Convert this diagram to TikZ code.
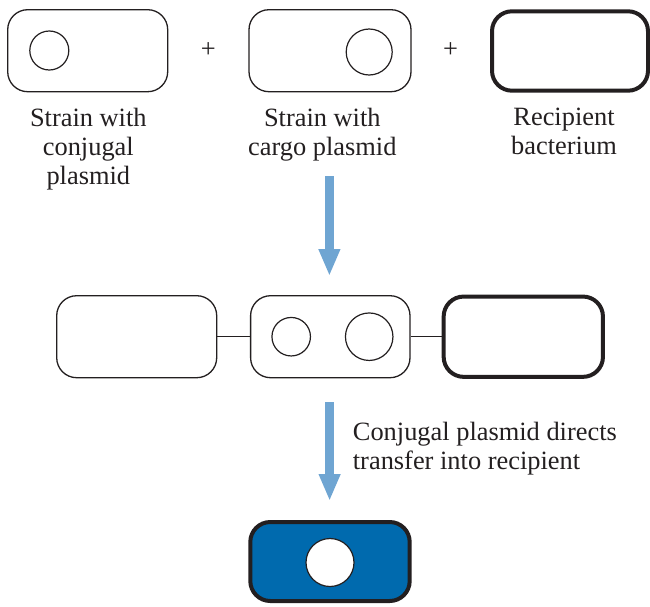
\documentclass[tikz,border=0pt]{standalone}
\usepackage{fontspec}
\setmainfont{Liberation Serif}
\usetikzlibrary{arrows.meta}
\definecolor{ink}{HTML}{231F20}
\definecolor{flowblue}{HTML}{6FA5D2}
\definecolor{cellblue}{HTML}{006AAE}
\tikzset{
  cell/.style={rectangle, draw=ink, line width=1.3pt, rounded corners=20pt,
    inner sep=0pt, minimum width=160pt, minimum height=82pt},
  recip/.style={cell, line width=4pt},
  plasmid/.style={circle, draw=ink, line width=1.2pt, inner sep=0pt},
  lab/.style={font=\fontsize{26.4}{29}\selectfont, align=center, text=ink, inner sep=0pt},
  flow/.style={draw=flowblue, line width=8.3pt,
    -{Triangle[width=20pt,length=27pt]}},
  link/.style={draw=ink, line width=1.3pt}
}
\begin{document}
\begin{tikzpicture}[x=1pt,y=-1pt]
\useasboundingbox (0,0) rectangle (650,606);

% the three starting strains
\node[cell, minimum width=160pt, minimum height=82pt] (donor) at (87.7,50.7) {};
\node[plasmid, minimum size=39pt] (conjp) at (49.3,50.5) {};
\node[lab] (plusA) at (208.3,50) {+};
\node[cell, minimum width=162pt, minimum height=82pt] (helper) at (330,50.7) {};
\node[plasmid, minimum size=46pt] (cargop) at (369.2,52) {};
\node[lab] (plusB) at (450.5,50) {+};
\node[recip, minimum width=156pt, minimum height=79.4pt] (recipient) at (570,51) {};

\node[lab, anchor=north] (labA) at (88.3,108.2) {Strain with\\conjugal\\plasmid};
\node[lab, anchor=north] (labB) at (322.3,108.2) {Strain with\\cargo plasmid};
\node[lab, anchor=north] (labC) at (564,108.2) {Recipient\\bacterium};

% mating chain
\node[cell, minimum width=160pt, minimum height=82pt] (chainA) at (136.7,336.7) {};
\node[cell, minimum width=159.4pt, minimum height=82pt] (chainB) at (330.3,336.7) {};
\node[plasmid, minimum size=38.5pt] (chainp1) at (291.2,336.7) {};
\node[plasmid, minimum size=47.5pt] (chainp2) at (369.2,336.7) {};
\node[recip, minimum width=159.3pt, minimum height=80.3pt] (chainC) at (523.3,336.7) {};
\draw[link] (chainA.east) -- (chainB.west);
\draw[link] (chainB.east) -- (chainC.west);

% transconjugant
\node[recip, fill=cellblue, minimum width=159.4pt, minimum height=79pt] (result) at (330,561.5) {};
\node[plasmid, fill=white, minimum size=48pt] (resultp) at (330,562.5) {};

% process arrows
\coordinate (flowA) at (329.4,176);
\coordinate (flowB) at (329.6,402);
\draw[flow, shorten >=19pt] (flowA) -- (flowA |- chainB.north);
\draw[flow, shorten >=19pt] (flowB) -- (flowB |- result.north);

\node[lab, align=left, anchor=north west] (note) at (352.7,422)
  {Conjugal plasmid directs\\transfer into recipient};
\end{tikzpicture}
\end{document}
